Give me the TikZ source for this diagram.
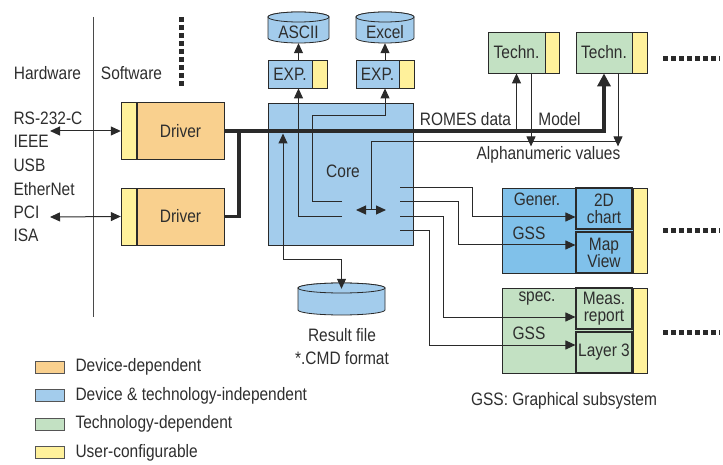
\documentclass[tikz,border=0pt]{standalone}
\usepackage{fontspec}
\setmainfont{Liberation Sans}[FakeStretch=0.86]
\usetikzlibrary{arrows.meta}

\definecolor{devdep}{HTML}{F9D08E}
\definecolor{indep}{HTML}{A3CCEC}
\definecolor{gssblue}{HTML}{80C1EA}
\definecolor{techdep}{HTML}{C3E1C3}
\definecolor{usercfg}{HTML}{FFF19B}
\definecolor{linec}{HTML}{2A2A2A}
\definecolor{textc}{HTML}{2E2E2E}
\newcommand\fs{\fontsize{18}{17}\selectfont}
% cylinder: centre x, top y, half width, height
\newcommand\dbcyl[4]{%
  \filldraw[cylline] (#1-#3,#2+5) -- (#1-#3,#2+#4-5)
     arc[start angle=180,end angle=360,x radius=#3pt,y radius=5pt]
     -- (#1+#3,#2+5) arc[start angle=0,end angle=180,x radius=#3pt,y radius=5pt] -- cycle;
  \draw[cylline] (#1,#2+5) ellipse[x radius=#3pt,y radius=5pt];}

\tikzset{
  box/.style={draw=linec, line width=0.8pt, inner sep=0pt, align=center},
  ustrip/.style={box, fill=usercfg, minimum width=15pt},
  cylline/.style={draw=linec, line width=0.8pt, fill=indep},
  conn/.style={draw=linec, line width=1pt},
  bus/.style={draw=linec, line width=3.5pt, -{Triangle[length=13pt,width=13pt]}},
  dotline/.style={draw=linec, line width=5pt, dash pattern=on 5pt off 3pt},
  legbox/.style={draw=linec!80, line width=0.8pt, minimum width=29pt, minimum height=12pt, inner sep=0pt}
}

\begin{document}
\begin{tikzpicture}[x=1pt,y=-1pt,font=\fs,text=textc,
    >={Triangle[length=10pt,width=9pt]}]
    \useasboundingbox (0,0) rectangle (723,465);

    % hardware / software
    \draw[linec!85, line width=0.9pt] (93,17) -- (93,317);
    \draw[dotline] (181,17) -- (181,88);
    \node (hw) at (47.5,73) {Hardware};
    \node (sw) at (131.5,73) {Software};
    \foreach \t [count=\i] in {RS-232-C,IEEE,USB,EtherNet,PCI,ISA}
       {
            \node[anchor=west] (if\i) at (10,95+23.4*\i) {\t};
       }

    % drivers
    \node[box, fill=devdep, minimum width=87pt, minimum height=57pt] (drv1) at (180.5,131) {Driver};
    \node[ustrip, minimum height=57pt, anchor=east] (drv1u) at (drv1.west) {};
    \node[box, fill=devdep, minimum width=87pt, minimum height=57pt] (drv2) at (180.5,216.5) {Driver};
    \node[ustrip, minimum height=57pt, anchor=east] (drv2u) at (drv2.west) {};

    % core and export
    \node[box, fill=indep, minimum width=145pt, minimum height=142pt] (core) at (340.5,174) {};
    \node (corel) at (343,171) {Core};
    \node[box, fill=indep, minimum width=44pt, minimum height=28pt] (exp1) at (290,74) {EXP.};
    \node[ustrip, minimum height=28pt, anchor=west] (exp1u) at (exp1.east) {};
    \node[box, fill=indep, minimum width=43pt, minimum height=28pt] (exp2) at (377.5,74) {EXP.};
    \node[ustrip, minimum height=28pt, anchor=west] (exp2u) at (exp2.east) {};

    \dbcyl{298.5}{12}{30.5}{31}
    \dbcyl{385}{12}{29}{31}
    \dbcyl{341.5}{283}{43.5}{32}
    \node[minimum width=61pt, minimum height=31pt, inner sep=0pt] (ascii) at (298.5,27.5) {};
    \node[minimum width=58pt, minimum height=31pt, inner sep=0pt] (excel) at (385,27.5) {};
    \node[minimum width=87pt, minimum height=32pt, inner sep=0pt] (res) at (341.5,299) {};
    \node (asciil) at (298.5,32) {ASCII};
    \node (excell) at (385,32) {Excel};
    \node[align=center] (resl) at (342,346.5) {Result file\\[6pt]*.CMD format};

    % technology modules
    \node[box, fill=techdep, minimum width=57pt, minimum height=41pt] (tc1) at (516.5,52.5) {Techn.};
    \node[ustrip, minimum width=14pt, minimum height=41pt, anchor=west] (tc1u) at (tc1.east) {};
    \node[box, fill=techdep, minimum width=56pt, minimum height=41pt] (tc2) at (604,52.5) {Techn.};
    \node[ustrip, minimum height=41pt, anchor=west] (tc2u) at (tc2.east) {};
    \draw[dotline] (663,59) -- (720,59);

    % graphical subsystems
    \node[box, fill=gssblue, minimum width=131pt, minimum height=85pt] (gss1) at (567.5,230.5) {};
    \node[ustrip, minimum width=14pt, minimum height=85pt, anchor=west] (gss1u) at (gss1.east) {};
    \node[box, fill=gssblue, line width=1.1pt, minimum width=56pt, minimum height=41pt] (chart) at (604,208.5) {2D\\chart};
    \node[box, fill=gssblue, line width=1.1pt, minimum width=56pt, minimum height=41pt] (map) at (604,252.5) {Map\\View};
    \node (gen) at (537,199) {Gener.};
    \node (gssa) at (529,233) {GSS};
    \draw[dotline] (663,231) -- (720,231);

    \node[box, fill=techdep, minimum width=131pt, minimum height=85pt] (gss2) at (567.5,330.5) {};
    \node[ustrip, minimum width=14pt, minimum height=85pt, anchor=west] (gss2u) at (gss2.east) {};
    \node[box, fill=techdep, line width=1.1pt, minimum width=56pt, minimum height=41pt] (meas) at (604,308.5) {Meas.\\report};
    \node[box, fill=techdep, line width=1.1pt, minimum width=56pt, minimum height=41pt] (lay) at (604,352.5) {Layer 3};
    \node (spec) at (537,299) {spec.};
    \node (gssb) at (529,333) {GSS};
    \draw[dotline] (663,332) -- (720,332);
    \node (gssnote) at (564,401) {GSS: Graphical subsystem};

    % connection points
    \coordinate (hw1) at (50,131);
    \coordinate (hw2) at (50,217);
    \coordinate (jn) at (239,131);
    \coordinate (busin) at (283,133.5);
    \coordinate (rb) at (341.5,260);
    \coordinate (ex1) at (342,217);
    \coordinate (ex2) at (342,202);
    \coordinate (k2) at (312,116);
    \coordinate (da) at (356,210);
    \coordinate (db) at (386,210);
    \coordinate (mx) at (371,210);
    \coordinate (al) at (618,142);
    \foreach \y [count=\i] in {188,202,217,231}
       {
            \coordinate (s\i) at (400,\y);
       }

    % connectors
    \draw[conn,<->] (hw1) -- (drv1u.west);
    \draw[conn,<->] (hw2) -- (drv2u.west);
    \draw[bus] (drv1.east) -| (tc2.south);
    \draw[bus,-] (drv2.east) -| (jn);
    \draw[conn,->] (tc1.south |- drv1.east) -- (tc1.south);
    \draw[conn,->] ([xshift=14.5pt]tc1.south) -- ++(0,73);
    \draw[conn,->] ([xshift=14pt]tc2.south) -- ++(0,73);
    \draw[conn] (mx) |- (al);
    \draw[conn,<->] (da) -- (db);
    \draw[conn,->] (ascii |- exp1.north) -- (ascii.south);
    \draw[conn,->] (excel |- exp2.north) -- (excel.south);
    \draw[conn,->] (ex1) -| (ascii |- exp1.south);
    \draw[conn,->] (ex2) -| (k2) -| (excel |- exp2.south);
    \draw[conn,<->] (busin) |- (rb) -- ([yshift=-6pt]res.north);
    \draw[conn,->] (s1) -- ++(72,0) |- ([yshift=-8.5pt]chart.west);
    \draw[conn,->] (s2) -- ++(58,0) |- ([yshift=7.5pt]map.west);
    \draw[conn,->] (s3) -- ++(43,0) |- ([yshift=-8.5pt]meas.west);
    \draw[conn,->] (s4) -- ++(29,0) |- ([yshift=7.5pt]lay.west);

    \node (romes) at (465.5,119) {ROMES data};
    \node (model) at (559.5,119) {Model};
    \node (alpha) at (548.5,155) {Alphanumeric values};

    % legend
    \foreach \c/\t [count=\i] in {devdep/Device-dependent, indep/Device \& technology-independent, techdep/Technology-dependent, usercfg/User-configurable}
       {
            \node[legbox, fill=\c] (lb\i) at (49.5,338.5+28.5*\i) {};
            \node[anchor=west] (lt\i) at (72,338.5+28.5*\i) {\t};
       }
\end{tikzpicture}
\end{document}
